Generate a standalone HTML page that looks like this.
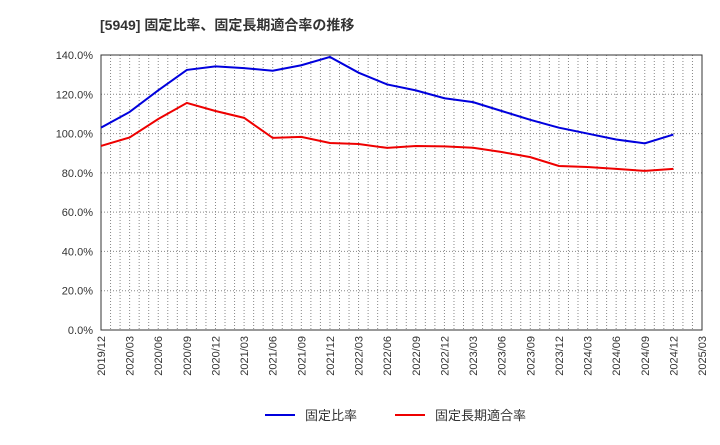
<!DOCTYPE html>
<html><head><meta charset="utf-8"><style>
body{margin:0;background:#fff;font-family:"Liberation Sans","Noto Sans CJK JP",sans-serif;}
</style></head><body>
<svg width="720" height="440" xmlns="http://www.w3.org/2000/svg">
<text x="100" y="30" font-size="14" font-weight="bold" fill="#333" font-family="Liberation Sans, Noto Sans CJK JP, sans-serif">[5949]  固定比率、固定長期適合率の推移</text>
<g id="grid"></g><g id="axes"></g><g id="series"></g>
<g>
<line x1="265" y1="415" x2="295" y2="415" stroke="#0000dd" stroke-width="2"/>
<text x="305" y="420" font-size="13" fill="#333">固定比率</text>
<line x1="395" y1="415" x2="425" y2="415" stroke="#ee0000" stroke-width="2"/>
<text x="435" y="420" font-size="13" fill="#333">固定長期適合率</text>
</g>
</svg>
<script>
const categories=["2019/12","2020/03","2020/06","2020/09","2020/12","2021/03","2021/06","2021/09","2021/12","2022/03","2022/06","2022/09","2022/12","2023/03","2023/06","2023/09","2023/12","2024/03","2024/06","2024/09","2024/12","2025/03"];
const fixedRatio=[103,111,122,132.4,134.2,133.3,132,134.8,139,131,125,122,118,116,111.5,107,103,100,97,95,99.5];
const fixedLongTermRatio=[93.7,98,107.4,115.6,111.5,108,97.8,98.3,95.2,94.7,92.7,93.7,93.5,92.8,90.6,88,83.5,83,82,81,82];
const yTicks=[0,20,40,60,80,100,120,140];
const NS="http://www.w3.org/2000/svg";
const L=101,R=702,T=55,B=330;
const x=i=>L+i*(R-L)/(categories.length-1);
const y=v=>B-v/140*(B-T);
function mk(tag,attrs,parent){const e=document.createElementNS(NS,tag);for(const k in attrs)e.setAttribute(k,attrs[k]);document.getElementById(parent).appendChild(e);return e;}
const months=(categories.length-1)*3;
for(let m=1;m<months;m++){
 const xm=L+m*(R-L)/months;
 const g=mk("line",{x1:xm,x2:xm,y1:T,y2:B,stroke:"#888","stroke-dasharray":"1,2","stroke-width":1},"grid");
 
 
}
categories.forEach((c,i)=>{
 const t=mk("text",{x:0,y:0,"font-size":11,fill:"#333","text-anchor":"end",transform:`translate(${x(i)+4},${B+6}) rotate(-90)`},"axes");
 t.textContent=c;
 
 
});
yTicks.forEach(v=>{
 const g=mk("line",{x1:L,x2:R,y1:y(v),y2:y(v),stroke:"#888","stroke-dasharray":"1,2","stroke-width":1},"grid");
 
 
 const t=mk("text",{x:L-8,y:y(v)+4,"font-size":11,fill:"#333","text-anchor":"end"},"axes");
 t.textContent=v.toFixed(1)+"%";
 
 
});
const frame=mk("rect",{x:L,y:T,width:R-L,height:B-T,fill:"none",stroke:"#333","stroke-width":1},"axes");


const p1=mk("polyline",{points:fixedRatio.map((v,i)=>x(i)+","+y(v)).join(" "),fill:"none",stroke:"#0000dd","stroke-width":2},"series");


const p2=mk("polyline",{points:fixedLongTermRatio.map((v,i)=>x(i)+","+y(v)).join(" "),fill:"none",stroke:"#ee0000","stroke-width":2},"series");


</script>
</body></html>
